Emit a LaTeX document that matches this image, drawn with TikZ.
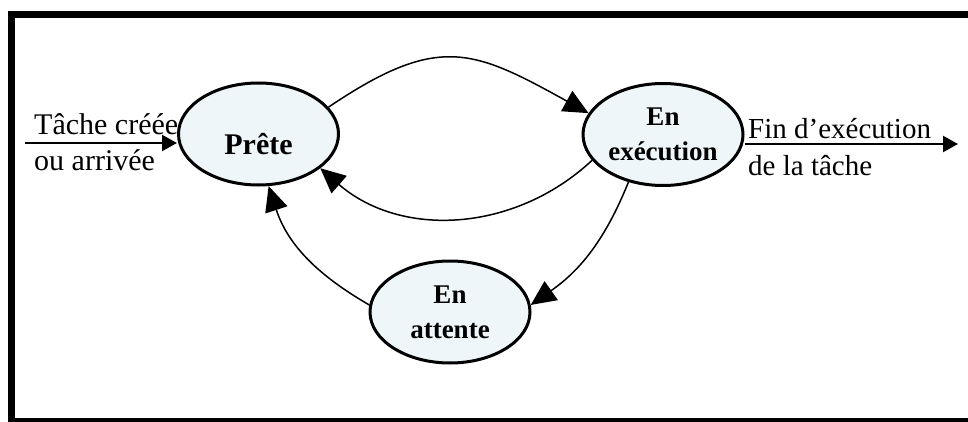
\documentclass[tikz,border=0pt]{standalone}
\usepackage{fontspec}
\setmainfont{Liberation Serif}
\usetikzlibrary{shapes.geometric,arrows.meta}
\definecolor{statefill}{RGB}{239,246,250}
\begin{document}
\begin{tikzpicture}[x=1pt,y=1pt,
  state/.style={ellipse, draw, line width=3pt, fill=statefill,
    minimum width=160pt, minimum height=102pt, inner sep=0pt, align=center,
    font=\fontsize{27}{35}\selectfont\bfseries},
  flow/.style={line width=1.5pt, -{Triangle[length=25pt,width=23pt]}},
  io/.style={line width=2.2pt, -{Triangle[length=15pt,width=16pt]}},
  lbl/.style={inner sep=0pt, anchor=base west, font=\fontsize{29}{35}\selectfont}]
\useasboundingbox (0,0) rectangle (968,421);
\clip (0,0) rectangle (968,421);

% outer frame
\draw[line width=7pt] (11.5,-0.2) rectangle (980,406.5);

% states
\node[state, text height=42pt, text depth=0pt, font=\fontsize{30}{35}\selectfont\bfseries] (P) at (258.5,287) {Prête};
\node[state] (E) at (663,286.5) {En\\exécution};
\node[state] (A) at (450,109) {En\\attente};

% entry and exit
\coordinate (in) at (25,278);
\coordinate (out) at (958,277);
\draw[io] (in) -- (in -| P.west);
\draw[io] (E.east |- out) -- (out);
\node[lbl, font=\fontsize{30}{35}\selectfont] (t1) at (34,286) {Tâche créée};
\node[lbl, font=\fontsize{30}{35}\selectfont] (t2) at (34,251) {ou arrivée};
\node[lbl] (f1) at (748,283) {Fin d’exécution};
\node[lbl] (f2) at (748,246) {de la tâche};

% transitions
\draw[flow] (P.21) to[out=34, in=151, looseness=1.3] (E.164);
\draw[flow] (E.200) to[out=-137, in=-41] (P.-29);
\draw[flow] (E.-126) to[out=-112, in=35] (A.5);
\draw[flow] (A.175) to[out=150, in=-72] (P.-79);
\end{tikzpicture}
\end{document}
